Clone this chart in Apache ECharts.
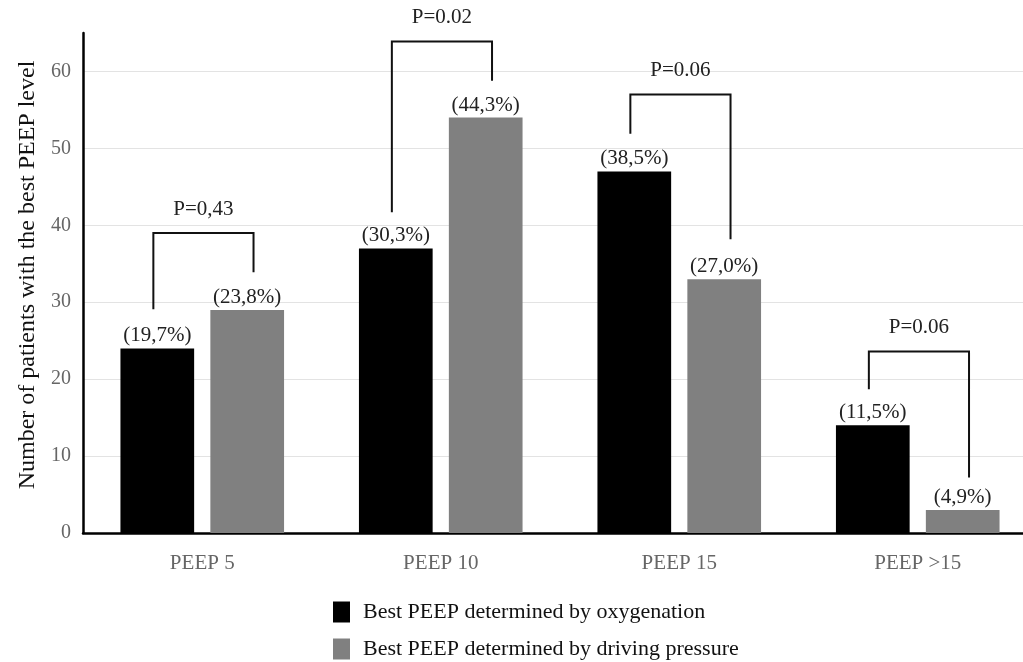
<!DOCTYPE html>
<html>
<head>
<meta charset="utf-8">
<script src="https://cdn.jsdelivr.net/npm/echarts@6/dist/echarts.min.js"></script>
<style>html,body{margin:0;padding:0;background:#fff;overflow:hidden;}#c{width:1040px;height:662px;}</style>
</head>
<body>
<div id="c"></div>
<script>
const categories = ['PEEP 5', 'PEEP 10', 'PEEP 15', 'PEEP >15'];
const oxygenation = [24, 37, 47, 14];
const drivingPressure = [29, 54, 33, 3];
const oxyLabels = ['(19,7%)', '(30,3%)', '(38,5%)', '(11,5%)'];
const dpLabels = ['(23,8%)', '(44,3%)', '(27,0%)', '(4,9%)'];
const pValues = ['P=0,43', 'P=0.02', 'P=0.06', 'P=0.06'];
const bracketLeftBottom = [29.1, 41.7, 51.9, 18.7];
const bracketTop = [39.0, 63.9, 57.0, 23.6];
const bracketRightBottom = [33.9, 58.8, 38.2, 7.2];
const yTicks = { min: 0, max: 65, interval: 10 };
const seriesNames = ['Best PEEP determined by oxygenation', 'Best PEEP determined by driving pressure'];

const SERIF = '"Liberation Serif", "DejaVu Serif", serif';
const chart = echarts.init(document.getElementById('c'));

const bracketData = categories.map((c, i) => [i, bracketLeftBottom[i], bracketTop[i], bracketRightBottom[i]]);

const legendBase = {
  orient: 'vertical',
  left: 333,
  padding: 0,
  itemWidth: 17,
  itemHeight: 21,
  icon: 'rect',
  textStyle: { fontFamily: SERIF, fontSize: 22, color: '#111', padding: [0, 0, 0, 8] }
};

chart.setOption({
  animation: false,
  grid: { left: 83, top: 33, width: 954, height: 500 },
  legend: [
    Object.assign({}, legendBase, { top: 601, data: [seriesNames[0]] }),
    Object.assign({}, legendBase, { top: 638, data: [seriesNames[1]] })
  ],
  xAxis: {
    type: 'category',
    data: categories,
    axisLine: { lineStyle: { color: '#000', width: 2.5 } },
    axisTick: { show: false },
    axisLabel: { fontFamily: SERIF, fontSize: 21, color: '#666', margin: 20 }
  },
  yAxis: {
    type: 'value',
    min: yTicks.min,
    max: yTicks.max,
    interval: yTicks.interval,
    name: 'Number of patients with the best PEEP level',
    nameLocation: 'middle',
    nameGap: 43,
    nameTextStyle: { fontFamily: SERIF, fontSize: 24, color: '#111', padding: [0, 0, 0, 16] },
    axisLine: { show: true, lineStyle: { color: '#000', width: 2.5 } },
    axisTick: { show: false },
    axisLabel: { fontFamily: SERIF, fontSize: 20, color: '#666', margin: 12, showMaxLabel: false },
    splitLine: { show: true, showMaxLine: false, lineStyle: { color: '#e3e3e3', width: 1.2 } }
  },
  series: [
    {
      name: seriesNames[0],
      type: 'bar',
      data: oxygenation,
      barGap: '22%',
      barCategoryGap: '31.4%',
      itemStyle: { color: '#000' },
      label: {
        show: true, position: 'top', distance: 2,
        formatter: p => oxyLabels[p.dataIndex],
        fontFamily: SERIF, fontSize: 21, color: '#222'
      }
    },
    {
      name: seriesNames[1],
      type: 'bar',
      data: drivingPressure,
      itemStyle: { color: '#808080' },
      label: {
        show: true, position: 'top', distance: 2,
        formatter: p => dpLabels[p.dataIndex],
        fontFamily: SERIF, fontSize: 21, color: '#222'
      }
    },
    {
      name: 'brackets',
      type: 'custom',
      clip: false,
      silent: true,
      data: bracketData,
      z: 5,
      renderItem: function (params, api) {
        const i = api.value(0);
        const top = api.coord([i, api.value(2)]);
        const band = api.size([1, 0])[0];
        const xl = top[0] - band * 0.205;
        const xr = top[0] + band * 0.215;
        const yl = api.coord([i, api.value(1)])[1];
        const yr = api.coord([i, api.value(3)])[1];
        const yt = top[1];
        return {
          type: 'group',
          children: [
            {
              type: 'polyline',
              shape: { points: [[xl, yl], [xl, yt], [xr, yt], [xr, yr]] },
              style: { stroke: '#111', lineWidth: 2, fill: null }
            },
            {
              type: 'text',
              x: (xl + xr) / 2,
              y: yt - 24,
              style: {
                text: pValues[i],
                font: '21px ' + SERIF,
                fill: '#222',
                align: 'center',
                verticalAlign: 'middle'
              }
            }
          ]
        };
      }
    }
  ]
});
</script>
</body>
</html>
